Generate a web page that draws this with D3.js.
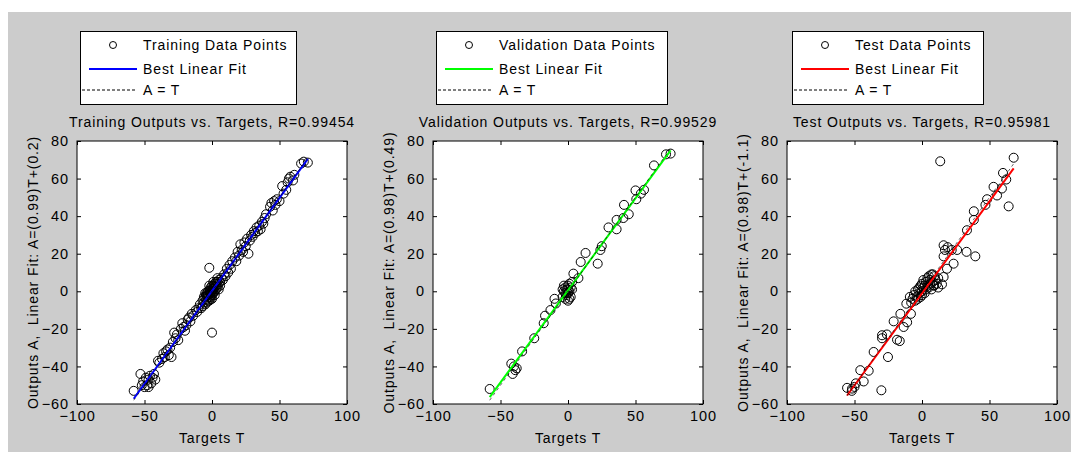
<!DOCTYPE html>
<html><head><meta charset="utf-8">
<script src="https://cdn.jsdelivr.net/npm/d3@7"></script>
<style>body{margin:0;background:#fff}svg{display:block}</style>
</head><body>
<svg id="c" width="1071" height="452"></svg>
<script>
// ---------- data ----------
const panelNames = ["Training", "Validation", "Test"];
const rValues = ["0.99454", "0.99529", "0.95981"];
const fitSlopes = [0.99, 0.98, 0.98];
const fitIntercepts = [0.2, 0.49, -1.1];
const fitLabels = ["A=(0.99)T+(0.2)", "A=(0.98)T+(0.49)", "A=(0.98)T+(-1.1)"];
const fitColors = ["#0000ff", "#00ff00", "#ff0000"];
const xTicks = [-100, -50, 0, 50, 100];
const yTicks = [-60, -40, -20, 0, 20, 40, 60, 80];

const trainingPoints = [
 [-58,-53],[-53,-44],[-51,-48],[-50,-51],[-48,-50],[-47,-47],[-46,-45],[-45,-49],[-44,-46],[-43,-44],[-42,-47],[-49,-46],[-52,-50],[-47,-51],
 [-40,-37],[-39,-38],[-37,-36],[-36,-33],[-35,-35],[-34,-32],[-33,-31],[-32,-34],[-31,-30],[-30,-35],[-29,-27],
 [-28,-22],[-27,-25],[-26,-23],[-25,-26],[-23,-20],[-22,-17],[-21,-19],[-20,-21],[-19,-18],[-18,-15],[-17,-14],[-16,-16],[-15,-12],[-14,-13],[-12,-10],[-11,-11],[-10,-9],[-9,-7],[-8,-9],
 [-7,-5],[-6,-6],[-5,-3],[-5,-7],[-4,-4],[-4,-1],[-3,-2],[-3,-5],[-2,0],[-2,-3],[-1,-1],[-1,2],[0,0],[0,-2],[0,3],[1,1],[1,-1],[2,2],[2,4],[3,1],[3,3],[4,5],[4,2],[5,4],[5,6],[6,5],
 [-6,-3],[-4,-6],[-3,0],[-2,-5],[-1,-3],[0,1],[1,3],[2,0],[3,5],[-5,-1],[-7,-8],[6,3],[5,1],[4,7],
 [-3.5,-2.5],[-2.5,-1.5],[-1.5,0.5],[-0.5,-0.5],[0.5,1.5],[1.5,2.5],[-1,-4],[0,-4],[1,5],[-2,3],[2,-2],[-4,-2],
 [7,7],[8,6],[9,9],[10,8],[11,12],[12,10],[13,14],[14,12],[15,16],
 [-2,12.5],[0,-22],
 [17,18],[18,16],[19,21],[20,19],[21,25],[22,22],[23,21],[24,26],[25,24],[27,20],[26,28],[28,27],[29,30],[30,29],[31,32],[32,31],[33,34],[34,32],[35,35],[36,33],[37,37],[38,36],[39,39],[40,41],
 [43,45],[44,47],[45,43],[46,48],[47,46],[48,49],[50,48],[52,56],[53,52],[55,54],[56,58],[57,60],[58,61],[60,59],[61,62],[66,68],[68,69],[71,68.5]
];
const validationPoints = [
 [-58,-52],[-42,-38.5],[-40,-40],[-41,-44],[-38,-41],[-39,-42],[-34,-32],[-25,-25],[-18,-17],[-17,-13],[-13,-10],[-10,-4],[-9,-6.5],
 [-4,-3],[-3,0],[-2,2],[-2,-4],[-1,1],[-1,-2],[0,3],[0,-1],[0,-5],[1,0],[1,4],[2,2],[2,-3],[3,1],[3,5],[-3,3],[-4,1],[1,-4],[-2,-1],[0,1],
 [4,9.4],[7.7,7],[9.4,15.6],[13,20.4],[22,14.7],[24,22],[25,24],[30,34],[36,33],[36,38],[41,39],[41.5,46],[45,41],[50,53.7],[50.6,49],[54,52],[56.3,54],[63.7,67],[72.6,72.9],[76,73.3]
];
const testPoints = [
 [13.5,69.2],[67.9,71.1],[60,63],[62.4,59.5],[59.2,54.7],[53,55.6],[55.6,51],[48.2,49],[47,46],[64.2,45.2],[38.4,42.6],[38.4,38],[33.3,32.5],
 [16,24.5],[19,23.5],[22,22],[26,22],[33,21],[39.5,18.6],[16,18.6],[23.4,14.7],[18.5,12],[16,7.6],[14.8,3.7],[17,22],
 [-7,-4],[-6,-2],[-5,-5],[-5,0],[-4,-3],[-3,1],[-3,-4],[-2,2],[-2,-1],[-1,3],[-1,-3],[0,0],[0,4],[0,-2],[1,2],[1,6],[2,-1],[2,3],[3,5],[3,1],[4,7],[4,3],[5,2],[5,8],[6,4],[6,6],[7,1],[8,5],[8,9],[9,3],[10,6],[11,4],[12,7],[-8,-6],[-9,-3],[7,9],[9,8],[8.6,3.2],[12,2],
 [-11.6,-6.6],[-8.2,-12],[-16,-12],[-21,-16],[-11,-16.5],[-13.6,-19],[-29.6,-23.4],[-26,-23],[-18.5,-25.8],[-16.5,-26.5],[-29.6,-25],
 [-35.8,-32.3],[-25.2,-35],[-45.7,-42],[-39.5,-42.3],[-43.2,-48],[-50,-50.9],[-55.5,-51.4],[-51.8,-51.8],[-30.1,-52.7],[-49,-49],[-52,-53]
];
const allPoints = [trainingPoints, validationPoints, testPoints];

// ---------- layout ----------
const W = 1071, H = 452;
const plotLefts = [77, 433, 787];
const plotW = 270, plotTop = 141, plotBottom = 404;
const legendLefts = [80, 436, 792];
const legendWidths = [216, 231, 191];
const legendTop = 31, legendH = 73;
const FONT = "'Liberation Sans', Arial, sans-serif";
const LS = "0.9px";

const svg = d3.select("#c");
svg.append("rect").attr("x", 8).attr("y", 12).attr("width", W - 8).attr("height", H - 12).attr("fill", "#cccccc");

function styleText(sel, size) {
  sel.attr("font-size", size).attr("font-family", FONT).attr("fill", "#000").style("letter-spacing", LS);
}

panelNames.forEach((name, i) => {
  const x = d3.scaleLinear().domain([-100, 100]).range([plotLefts[i], plotLefts[i] + plotW]);
  const y = d3.scaleLinear().domain([-60, 80]).range([plotBottom, plotTop]);
  const g = svg.append("g");

  g.append("rect").attr("x", x(-100)).attr("y", y(80)).attr("width", plotW).attr("height", plotBottom - plotTop)
    .attr("fill", "#fff");

  // axes (ticks inward, on all four sides)
  const tl = 4;
  g.append("g").attr("transform", `translate(0,${plotBottom})`)
    .call(d3.axisBottom(x).tickValues(xTicks).tickSizeInner(-tl).tickSizeOuter(0).tickPadding(7))
    .call(a => { a.select(".domain").remove(); styleText(a.selectAll("text"), 14.5); });
  g.append("g").attr("transform", `translate(0,${plotTop})`)
    .call(d3.axisTop(x).tickValues(xTicks).tickSizeInner(-tl).tickSizeOuter(0).tickFormat(""))
    .call(a => a.select(".domain").remove());
  g.append("g").attr("transform", `translate(${x(-100)},0)`)
    .call(d3.axisLeft(y).tickValues(yTicks).tickSizeInner(-tl).tickSizeOuter(0).tickPadding(8))
    .call(a => { a.select(".domain").remove(); styleText(a.selectAll("text"), 14.5); });
  g.append("g").attr("transform", `translate(${x(100)},0)`)
    .call(d3.axisRight(y).tickValues(yTicks).tickSizeInner(-tl).tickSizeOuter(0).tickFormat(""))
    .call(a => a.select(".domain").remove());

  // points
  g.append("g").selectAll("circle").data(allPoints[i]).join("circle")
    .attr("cx", d => x(d[0])).attr("cy", d => y(d[1])).attr("r", 4.5)
    .attr("fill", "none").attr("stroke", "#000").attr("stroke-width", 1);

  // fit line and A=T
  const ext = d3.extent(allPoints[i], d => d[0]);
  const fit = t => fitSlopes[i] * t + fitIntercepts[i];
  g.append("line").attr("x1", x(ext[0])).attr("y1", y(fit(ext[0]))).attr("x2", x(ext[1])).attr("y2", y(fit(ext[1])))
    .attr("stroke", fitColors[i]).attr("stroke-width", 2);
  g.append("line").attr("x1", x(ext[0])).attr("y1", y(ext[0])).attr("x2", x(ext[1])).attr("y2", y(ext[1]))
    .attr("stroke", "#000").attr("stroke-width", 1).attr("stroke-dasharray", "3,3").attr("opacity", 0.6);

  // box
  g.append("rect").attr("x", x(-100)).attr("y", y(80)).attr("width", plotW).attr("height", plotBottom - plotTop)
    .attr("fill", "none").attr("stroke", "#000").attr("stroke-width", 1);

  // title and labels
  const cx = x(0);
  styleText(g.append("text").attr("x", cx).attr("y", 127).attr("text-anchor", "middle")
    .text(`${name} Outputs vs. Targets, R=${rValues[i]}`), 14);
  styleText(g.append("text").attr("x", cx).attr("y", 443).attr("text-anchor", "middle")
    .text("Targets T"), 14);
  const ly = (plotTop + plotBottom) / 2;
  const lx = plotLefts[i] - 39;
  styleText(g.append("text").attr("transform", `translate(${lx},${ly}) rotate(-90)`).attr("text-anchor", "middle")
    .attr("xml:space", "preserve")
    .text(`Outputs A,  Linear Fit: ${fitLabels[i]}`), 14);

  // legend
  const L = legendLefts[i];
  const lg = g.append("g");
  lg.append("rect").attr("x", L + 0.5).attr("y", legendTop + 0.5).attr("width", legendWidths[i]).attr("height", legendH)
    .attr("fill", "#fff").attr("stroke", "#000").attr("stroke-width", 1);
  const rows = [45, 69, 90];
  lg.append("circle").attr("cx", L + 33).attr("cy", rows[0]).attr("r", 3.5).attr("fill", "none").attr("stroke", "#000");
  lg.append("line").attr("x1", L + 9).attr("x2", L + 57).attr("y1", rows[1]).attr("y2", rows[1])
    .attr("stroke", fitColors[i]).attr("stroke-width", 2);
  lg.append("line").attr("x1", L + 2).attr("x2", L + 57).attr("y1", rows[2]).attr("y2", rows[2])
    .attr("stroke", "#000").attr("stroke-width", 1).attr("stroke-dasharray", "3,2");
  const labels = [`${name} Data Points`, "Best Linear Fit", "A = T"];
  labels.forEach((t, k) => {
    styleText(lg.append("text").attr("x", L + 63).attr("y", rows[k] + 5).text(t), 14);
  });
});
</script>
</body></html>
